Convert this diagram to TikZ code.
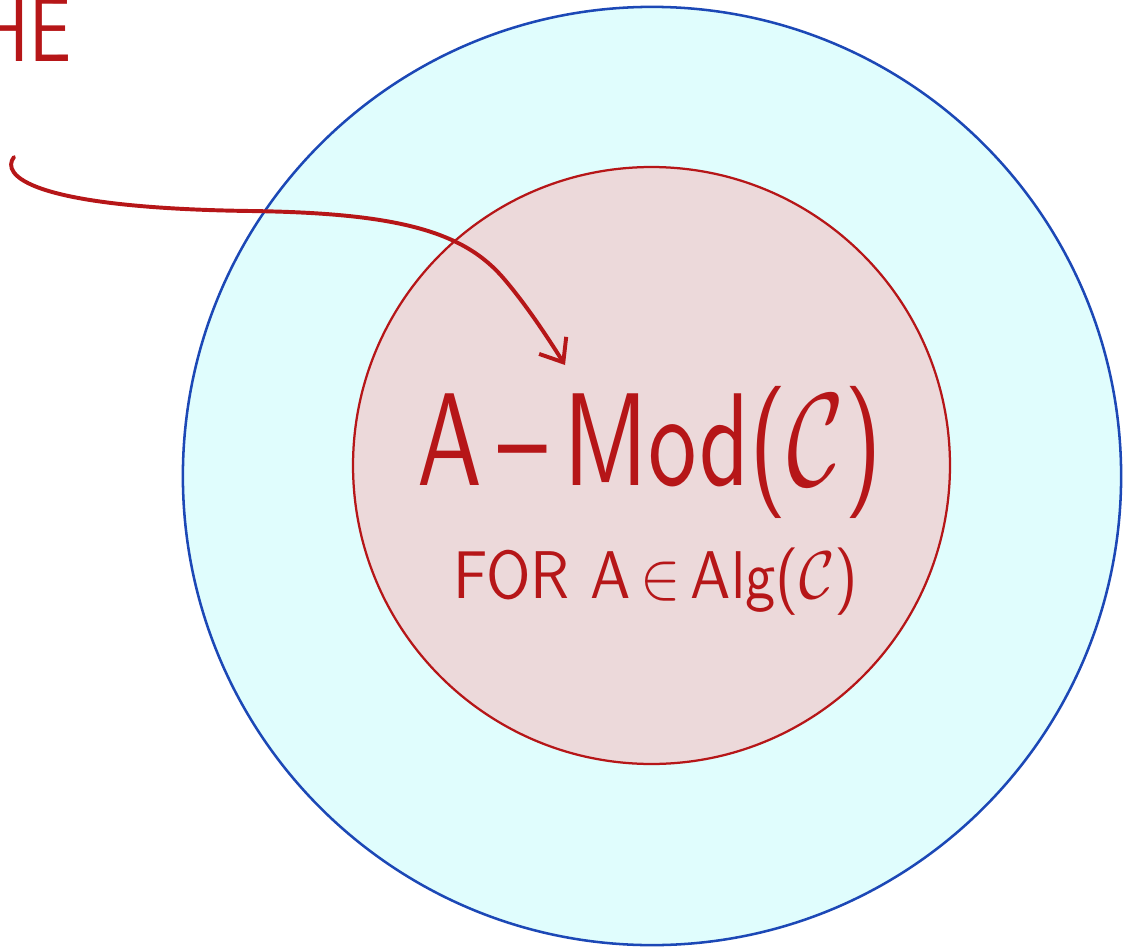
\documentclass[tikz,border=0pt]{standalone}
\usepackage{amsmath,amssymb}
\usepackage{graphicx}
\usepackage{xcolor}
\usepackage{tikz}
\usetikzlibrary{positioning, arrows.meta}
\definecolor{InkRed}{RGB}{182,22,24}
\definecolor{RingBlue}{RGB}{28,72,182}
\definecolor{PaleCyan}{RGB}{224,253,253}
\definecolor{PaleRose}{RGB}{236,217,218}
\tikzset{
  catdisc/.style={circle, draw=RingBlue, fill=PaleCyan, line width=1.8pt, inner sep=0pt},
  moddisc/.style={circle, draw=InkRed, fill=PaleRose, line width=1.6pt, inner sep=0pt},
  inklabel/.style={text=InkRed, inner sep=0pt, align=center, font=\sffamily},
  inkarrow/.style={-{Straight Barb[length=5mm, width=8mm, line width=2.8pt]}, line width=2.8pt, InkRed, line cap=round},
}
\begin{document}
\begin{tikzpicture}[x=0.025cm, y=-0.025cm]
  \clip (0,0) rectangle (1126,947);
  \useasboundingbox (0,0) rectangle (1126,947);
  % the two discs
  \node[catdisc, minimum size=23.45cm] (cat) at (652,476) {};
  \node[moddisc, minimum size=14.92cm] (mod) at (651.5,465.5) {};
  % labels inside the inner disc
  \node[inklabel] (modname) at (650,452) {\scalebox{6.9}[9.4]{A\,--\,Mod($\mathcal{C}$)}};
  \node[inklabel] (forline) at (656,582) {\scalebox{4.3}[4.8]{FOR A\,$\in$\,Alg($\mathcal{C}$)}};
  % cut-off word at the top left
  \node[inklabel, anchor=south east] (the) at (72,62) {\scalebox{5}[6.5]{THE}};
  % the pointer
  \coordinate (tail) at (14,157);
  \coordinate (tip) at (565,365);
  \draw[inkarrow] (tail) .. controls (0,175) and (30,208) .. (250,211)
    .. controls (400,213) and (465,232) .. (505,280)
    .. controls (527,306) and (548,338) .. (tip);
\end{tikzpicture}
\end{document}
